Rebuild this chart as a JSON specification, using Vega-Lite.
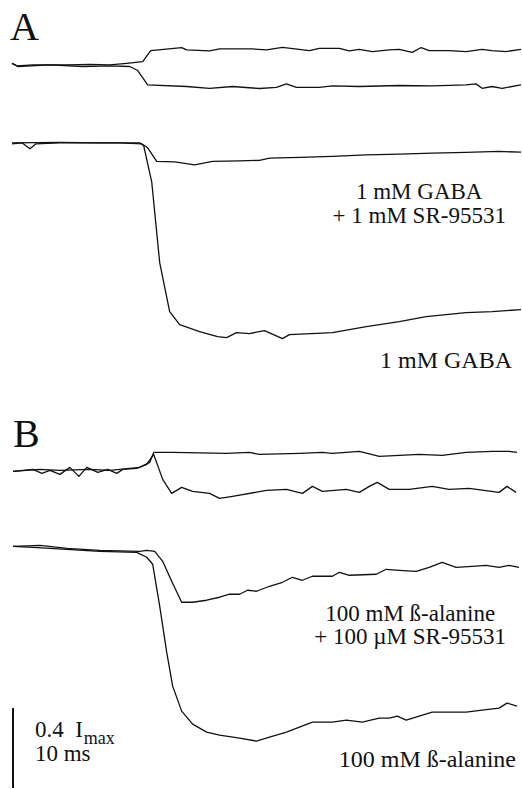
{
  "$schema": "https://vega.github.io/schema/vega-lite/v6.json",
  "width": 522,
  "height": 789,
  "padding": 0,
  "autosize": {"type": "fit", "contains": "padding"},
  "background": "white",
  "config": {"view": {"stroke": null}},
  "datasets": {
    "traces": [
      {"trace": "A1", "t": 1.2, "i": -0.317}, {"trace": "A1", "t": 1.7, "i": -0.33}, {"trace": "A1", "t": 3.3, "i": -0.325}, {"trace": "A1", "t": 6.7, "i": -0.325}, {"trace": "A1", "t": 9.0, "i": -0.322}, {"trace": "A1", "t": 11.0, "i": -0.325}, {"trace": "A1", "t": 12.7, "i": -0.317}, {"trace": "A1", "t": 14.3, "i": -0.308}, {"trace": "A1", "t": 15.1, "i": -0.253}, {"trace": "A1", "t": 18.2, "i": -0.238}, {"trace": "A1", "t": 18.7, "i": -0.25}, {"trace": "A1", "t": 21.0, "i": -0.255}, {"trace": "A1", "t": 22.0, "i": -0.245}, {"trace": "A1", "t": 25.3, "i": -0.245}, {"trace": "A1", "t": 26.7, "i": -0.25}, {"trace": "A1", "t": 28.3, "i": -0.237}, {"trace": "A1", "t": 31.0, "i": -0.253}, {"trace": "A1", "t": 32.0, "i": -0.242}, {"trace": "A1", "t": 34.0, "i": -0.242}, {"trace": "A1", "t": 35.0, "i": -0.255}, {"trace": "A1", "t": 36.0, "i": -0.247}, {"trace": "A1", "t": 37.3, "i": -0.258}, {"trace": "A1", "t": 39.0, "i": -0.25}, {"trace": "A1", "t": 40.0, "i": -0.247}, {"trace": "A1", "t": 41.3, "i": -0.262}, {"trace": "A1", "t": 42.2, "i": -0.238}, {"trace": "A1", "t": 43.0, "i": -0.253}, {"trace": "A1", "t": 45.0, "i": -0.253}, {"trace": "A1", "t": 46.7, "i": -0.258}, {"trace": "A1", "t": 48.3, "i": -0.247}, {"trace": "A1", "t": 49.3, "i": -0.253}, {"trace": "A1", "t": 50.7, "i": -0.258}, {"trace": "A1", "t": 52.2, "i": -0.247},
      {"trace": "A2", "t": 1.2, "i": -0.317}, {"trace": "A2", "t": 1.8, "i": -0.333}, {"trace": "A2", "t": 5.0, "i": -0.325}, {"trace": "A2", "t": 8.3, "i": -0.333}, {"trace": "A2", "t": 11.0, "i": -0.33}, {"trace": "A2", "t": 13.0, "i": -0.333}, {"trace": "A2", "t": 13.8, "i": -0.353}, {"trace": "A2", "t": 14.8, "i": -0.425}, {"trace": "A2", "t": 18.7, "i": -0.433}, {"trace": "A2", "t": 21.0, "i": -0.442}, {"trace": "A2", "t": 23.3, "i": -0.433}, {"trace": "A2", "t": 26.0, "i": -0.443}, {"trace": "A2", "t": 27.7, "i": -0.437}, {"trace": "A2", "t": 28.7, "i": -0.42}, {"trace": "A2", "t": 29.7, "i": -0.437}, {"trace": "A2", "t": 32.0, "i": -0.437}, {"trace": "A2", "t": 33.3, "i": -0.43}, {"trace": "A2", "t": 36.0, "i": -0.433}, {"trace": "A2", "t": 40.0, "i": -0.428}, {"trace": "A2", "t": 43.3, "i": -0.43}, {"trace": "A2", "t": 46.7, "i": -0.425}, {"trace": "A2", "t": 47.7, "i": -0.42}, {"trace": "A2", "t": 48.3, "i": -0.442}, {"trace": "A2", "t": 49.3, "i": -0.433}, {"trace": "A2", "t": 50.3, "i": -0.442}, {"trace": "A2", "t": 52.2, "i": -0.425},
      {"trace": "A3", "t": 1.2, "i": -0.72}, {"trace": "A3", "t": 2.2, "i": -0.715}, {"trace": "A3", "t": 3.0, "i": -0.745}, {"trace": "A3", "t": 3.6, "i": -0.72}, {"trace": "A3", "t": 6.0, "i": -0.715}, {"trace": "A3", "t": 9.0, "i": -0.715}, {"trace": "A3", "t": 12.0, "i": -0.715}, {"trace": "A3", "t": 14.2, "i": -0.72}, {"trace": "A3", "t": 14.8, "i": -0.74}, {"trace": "A3", "t": 15.7, "i": -0.808}, {"trace": "A3", "t": 17.5, "i": -0.81}, {"trace": "A3", "t": 19.5, "i": -0.825}, {"trace": "A3", "t": 21.3, "i": -0.808}, {"trace": "A3", "t": 24.0, "i": -0.805}, {"trace": "A3", "t": 26.0, "i": -0.803}, {"trace": "A3", "t": 27.0, "i": -0.792}, {"trace": "A3", "t": 30.0, "i": -0.788}, {"trace": "A3", "t": 33.3, "i": -0.783}, {"trace": "A3", "t": 36.7, "i": -0.775}, {"trace": "A3", "t": 40.0, "i": -0.772}, {"trace": "A3", "t": 43.3, "i": -0.767}, {"trace": "A3", "t": 46.7, "i": -0.763}, {"trace": "A3", "t": 50.0, "i": -0.758}, {"trace": "A3", "t": 52.2, "i": -0.762},
      {"trace": "A4", "t": 1.2, "i": -0.715}, {"trace": "A4", "t": 6.0, "i": -0.713}, {"trace": "A4", "t": 10.0, "i": -0.715}, {"trace": "A4", "t": 14.0, "i": -0.715}, {"trace": "A4", "t": 14.4, "i": -0.73}, {"trace": "A4", "t": 15.2, "i": -0.91}, {"trace": "A4", "t": 16.0, "i": -1.315}, {"trace": "A4", "t": 17.0, "i": -1.56}, {"trace": "A4", "t": 18.0, "i": -1.625}, {"trace": "A4", "t": 20.0, "i": -1.66}, {"trace": "A4", "t": 21.8, "i": -1.685}, {"trace": "A4", "t": 22.7, "i": -1.69}, {"trace": "A4", "t": 23.7, "i": -1.665}, {"trace": "A4", "t": 25.0, "i": -1.67}, {"trace": "A4", "t": 26.5, "i": -1.655}, {"trace": "A4", "t": 28.3, "i": -1.695}, {"trace": "A4", "t": 29.0, "i": -1.675}, {"trace": "A4", "t": 33.3, "i": -1.665}, {"trace": "A4", "t": 36.7, "i": -1.635}, {"trace": "A4", "t": 40.0, "i": -1.61}, {"trace": "A4", "t": 42.7, "i": -1.585}, {"trace": "A4", "t": 46.7, "i": -1.565}, {"trace": "A4", "t": 49.3, "i": -1.56}, {"trace": "A4", "t": 52.2, "i": -1.55},
      {"trace": "B1", "t": 1.3, "i": -2.36}, {"trace": "B1", "t": 4.0, "i": -2.35}, {"trace": "B1", "t": 6.0, "i": -2.355}, {"trace": "B1", "t": 9.0, "i": -2.35}, {"trace": "B1", "t": 11.0, "i": -2.355}, {"trace": "B1", "t": 13.0, "i": -2.345}, {"trace": "B1", "t": 14.0, "i": -2.34}, {"trace": "B1", "t": 15.0, "i": -2.315}, {"trace": "B1", "t": 15.4, "i": -2.265}, {"trace": "B1", "t": 17.3, "i": -2.265}, {"trace": "B1", "t": 22.7, "i": -2.27}, {"trace": "B1", "t": 25.0, "i": -2.265}, {"trace": "B1", "t": 26.0, "i": -2.275}, {"trace": "B1", "t": 30.0, "i": -2.27}, {"trace": "B1", "t": 32.3, "i": -2.265}, {"trace": "B1", "t": 33.3, "i": -2.27}, {"trace": "B1", "t": 36.0, "i": -2.26}, {"trace": "B1", "t": 38.0, "i": -2.285}, {"trace": "B1", "t": 40.0, "i": -2.28}, {"trace": "B1", "t": 42.0, "i": -2.275}, {"trace": "B1", "t": 44.3, "i": -2.28}, {"trace": "B1", "t": 46.7, "i": -2.265}, {"trace": "B1", "t": 49.3, "i": -2.26}, {"trace": "B1", "t": 51.0, "i": -2.26}, {"trace": "B1", "t": 51.8, "i": -2.265},
      {"trace": "B2", "t": 1.3, "i": -2.36}, {"trace": "B2", "t": 3.3, "i": -2.35}, {"trace": "B2", "t": 4.2, "i": -2.37}, {"trace": "B2", "t": 5.0, "i": -2.355}, {"trace": "B2", "t": 6.0, "i": -2.375}, {"trace": "B2", "t": 7.0, "i": -2.34}, {"trace": "B2", "t": 7.9, "i": -2.385}, {"trace": "B2", "t": 8.7, "i": -2.34}, {"trace": "B2", "t": 9.8, "i": -2.365}, {"trace": "B2", "t": 10.8, "i": -2.35}, {"trace": "B2", "t": 11.7, "i": -2.37}, {"trace": "B2", "t": 12.3, "i": -2.35}, {"trace": "B2", "t": 13.7, "i": -2.345}, {"trace": "B2", "t": 14.7, "i": -2.325}, {"trace": "B2", "t": 15.4, "i": -2.275}, {"trace": "B2", "t": 16.3, "i": -2.4}, {"trace": "B2", "t": 17.2, "i": -2.47}, {"trace": "B2", "t": 18.2, "i": -2.44}, {"trace": "B2", "t": 19.3, "i": -2.46}, {"trace": "B2", "t": 21.0, "i": -2.47}, {"trace": "B2", "t": 22.0, "i": -2.495}, {"trace": "B2", "t": 23.3, "i": -2.485}, {"trace": "B2", "t": 26.7, "i": -2.455}, {"trace": "B2", "t": 28.7, "i": -2.45}, {"trace": "B2", "t": 30.3, "i": -2.47}, {"trace": "B2", "t": 31.3, "i": -2.435}, {"trace": "B2", "t": 32.3, "i": -2.46}, {"trace": "B2", "t": 34.7, "i": -2.45}, {"trace": "B2", "t": 36.0, "i": -2.465}, {"trace": "B2", "t": 37.0, "i": -2.435}, {"trace": "B2", "t": 37.8, "i": -2.415}, {"trace": "B2", "t": 39.0, "i": -2.45}, {"trace": "B2", "t": 41.0, "i": -2.45}, {"trace": "B2", "t": 43.3, "i": -2.435}, {"trace": "B2", "t": 45.0, "i": -2.45}, {"trace": "B2", "t": 47.0, "i": -2.445}, {"trace": "B2", "t": 50.0, "i": -2.465}, {"trace": "B2", "t": 50.8, "i": -2.435}, {"trace": "B2", "t": 51.7, "i": -2.465},
      {"trace": "B3", "t": 1.3, "i": -2.735}, {"trace": "B3", "t": 4.0, "i": -2.73}, {"trace": "B3", "t": 6.7, "i": -2.745}, {"trace": "B3", "t": 10.0, "i": -2.755}, {"trace": "B3", "t": 14.0, "i": -2.76}, {"trace": "B3", "t": 14.7, "i": -2.755}, {"trace": "B3", "t": 15.5, "i": -2.76}, {"trace": "B3", "t": 16.3, "i": -2.81}, {"trace": "B3", "t": 17.2, "i": -2.91}, {"trace": "B3", "t": 18.2, "i": -3.015}, {"trace": "B3", "t": 19.3, "i": -3.015}, {"trace": "B3", "t": 20.7, "i": -3.005}, {"trace": "B3", "t": 22.0, "i": -2.99}, {"trace": "B3", "t": 23.0, "i": -2.975}, {"trace": "B3", "t": 24.0, "i": -2.975}, {"trace": "B3", "t": 24.8, "i": -2.955}, {"trace": "B3", "t": 25.7, "i": -2.96}, {"trace": "B3", "t": 27.0, "i": -2.935}, {"trace": "B3", "t": 28.3, "i": -2.915}, {"trace": "B3", "t": 29.3, "i": -2.89}, {"trace": "B3", "t": 30.3, "i": -2.905}, {"trace": "B3", "t": 31.3, "i": -2.885}, {"trace": "B3", "t": 33.3, "i": -2.885}, {"trace": "B3", "t": 34.0, "i": -2.865}, {"trace": "B3", "t": 35.0, "i": -2.88}, {"trace": "B3", "t": 37.7, "i": -2.875}, {"trace": "B3", "t": 38.7, "i": -2.85}, {"trace": "B3", "t": 40.0, "i": -2.855}, {"trace": "B3", "t": 41.7, "i": -2.86}, {"trace": "B3", "t": 43.0, "i": -2.84}, {"trace": "B3", "t": 44.3, "i": -2.815}, {"trace": "B3", "t": 45.7, "i": -2.84}, {"trace": "B3", "t": 47.3, "i": -2.835}, {"trace": "B3", "t": 48.7, "i": -2.83}, {"trace": "B3", "t": 50.0, "i": -2.84}, {"trace": "B3", "t": 51.0, "i": -2.83}, {"trace": "B3", "t": 52.0, "i": -2.84},
      {"trace": "B4", "t": 1.3, "i": -2.735}, {"trace": "B4", "t": 3.3, "i": -2.74}, {"trace": "B4", "t": 5.0, "i": -2.745}, {"trace": "B4", "t": 10.0, "i": -2.76}, {"trace": "B4", "t": 13.7, "i": -2.765}, {"trace": "B4", "t": 14.7, "i": -2.79}, {"trace": "B4", "t": 15.3, "i": -2.825}, {"trace": "B4", "t": 16.0, "i": -3.035}, {"trace": "B4", "t": 16.7, "i": -3.265}, {"trace": "B4", "t": 17.3, "i": -3.435}, {"trace": "B4", "t": 18.2, "i": -3.56}, {"trace": "B4", "t": 19.3, "i": -3.625}, {"trace": "B4", "t": 20.7, "i": -3.665}, {"trace": "B4", "t": 22.0, "i": -3.68}, {"trace": "B4", "t": 24.0, "i": -3.695}, {"trace": "B4", "t": 25.7, "i": -3.71}, {"trace": "B4", "t": 27.0, "i": -3.69}, {"trace": "B4", "t": 28.7, "i": -3.665}, {"trace": "B4", "t": 30.0, "i": -3.64}, {"trace": "B4", "t": 31.3, "i": -3.615}, {"trace": "B4", "t": 33.3, "i": -3.615}, {"trace": "B4", "t": 34.7, "i": -3.605}, {"trace": "B4", "t": 36.3, "i": -3.615}, {"trace": "B4", "t": 38.0, "i": -3.595}, {"trace": "B4", "t": 39.0, "i": -3.595}, {"trace": "B4", "t": 39.8, "i": -3.585}, {"trace": "B4", "t": 40.7, "i": -3.605}, {"trace": "B4", "t": 42.0, "i": -3.585}, {"trace": "B4", "t": 43.3, "i": -3.565}, {"trace": "B4", "t": 45.0, "i": -3.565}, {"trace": "B4", "t": 46.7, "i": -3.565}, {"trace": "B4", "t": 48.3, "i": -3.555}, {"trace": "B4", "t": 50.0, "i": -3.545}, {"trace": "B4", "t": 50.8, "i": -3.52}, {"trace": "B4", "t": 51.8, "i": -3.535}
    ],
    "scalebar": [{"t": 1.3, "i": -3.545, "i2": -3.945}],
    "panels": [
      {"label": "A", "t": 1.0, "i": -0.2},
      {"label": "B", "t": 1.3, "i": -2.24}
    ],
    "centerLabels": [
      {"label": "1 mM GABA", "t": 42.0, "i": -0.998},
      {"label": "+ 1 mM SR-95531", "t": 42.0, "i": -1.115},
      {"label": "100 mM ß-alanine", "t": 41.1, "i": -3.108},
      {"label": "+ 100 µM SR-95531", "t": 41.1, "i": -3.225}
    ],
    "rightLabels": [
      {"label": "1 mM GABA", "t": 51.3, "i": -1.84},
      {"label": "100 mM ß-alanine", "t": 51.7, "i": -3.84}
    ],
    "scaleLabels": [
      {"label": "0.4\u00a0\u00a0I", "t": 3.5, "i": -3.688},
      {"label": "10 ms", "t": 3.5, "i": -3.81}
    ],
    "subLabels": [
      {"label": "max", "t": 8.4, "i": -3.725}
    ]
  },
  "layer": [
    {
      "data": {"name": "traces"},
      "mark": {"type": "line", "stroke": "#111", "strokeWidth": 1.3, "strokeJoin": "round"},
      "encoding": {
        "x": {"field": "t", "type": "quantitative", "title": "Time (ms)", "scale": {"domain": [0, 52.2], "nice": false, "zero": false}, "axis": null},
        "y": {"field": "i", "type": "quantitative", "title": "Current (I/Imax)", "scale": {"domain": [-3.945, 0], "nice": false, "zero": false}, "axis": null},
        "detail": {"field": "trace", "type": "nominal"}
      }
    },
    {
      "data": {"name": "scalebar"},
      "mark": {"type": "rule", "stroke": "#111", "strokeWidth": 2},
      "encoding": {
        "x": {"field": "t", "type": "quantitative"},
        "y": {"field": "i", "type": "quantitative"},
        "y2": {"field": "i2"}
      }
    },
    {
      "data": {"name": "panels"},
      "mark": {"type": "text", "font": "Liberation Serif", "color": "#111", "fontSize": 40, "align": "left", "baseline": "alphabetic"},
      "encoding": {
        "x": {"field": "t", "type": "quantitative"},
        "y": {"field": "i", "type": "quantitative"},
        "text": {"field": "label"}
      }
    },
    {
      "data": {"name": "centerLabels"},
      "mark": {"type": "text", "font": "Liberation Serif", "color": "#111", "fontSize": 23, "align": "center", "baseline": "alphabetic"},
      "encoding": {
        "x": {"field": "t", "type": "quantitative"},
        "y": {"field": "i", "type": "quantitative"},
        "text": {"field": "label"}
      }
    },
    {
      "data": {"name": "rightLabels"},
      "mark": {"type": "text", "font": "Liberation Serif", "color": "#111", "fontSize": 24, "align": "right", "baseline": "alphabetic"},
      "encoding": {
        "x": {"field": "t", "type": "quantitative"},
        "y": {"field": "i", "type": "quantitative"},
        "text": {"field": "label"}
      }
    },
    {
      "data": {"name": "scaleLabels"},
      "mark": {"type": "text", "font": "Liberation Serif", "color": "#111", "fontSize": 23, "align": "left", "baseline": "alphabetic"},
      "encoding": {
        "x": {"field": "t", "type": "quantitative"},
        "y": {"field": "i", "type": "quantitative"},
        "text": {"field": "label"}
      }
    },
    {
      "data": {"name": "subLabels"},
      "mark": {"type": "text", "font": "Liberation Serif", "color": "#111", "fontSize": 18, "align": "left", "baseline": "alphabetic"},
      "encoding": {
        "x": {"field": "t", "type": "quantitative"},
        "y": {"field": "i", "type": "quantitative"},
        "text": {"field": "label"}
      }
    }
  ]
}
